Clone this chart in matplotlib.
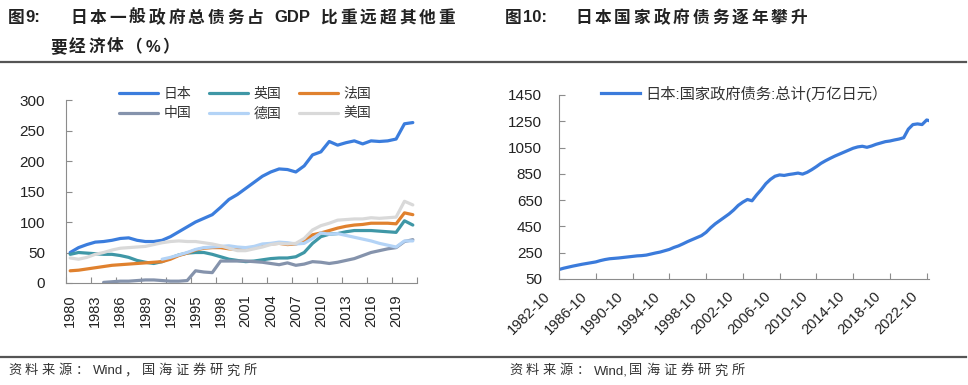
import re
import numpy as np
import pandas as pd
import matplotlib
matplotlib.use("Agg")
import matplotlib.pyplot as plt
import matplotlib.transforms as mtransforms
from matplotlib.lines import Line2D

plt.rcParams['font.family'] = ['Liberation Sans', 'Noto Sans CJK SC']

# ---- left chart: general government gross debt, % of GDP ----
years = list(range(1980, 2022))
nan = np.nan
japan = [50, 58, 63, 67, 68, 70, 73, 74, 70, 68, 68, 70, 76, 84, 92, 100, 106, 112,
         124, 137, 145, 155, 165, 175, 182, 187, 186, 182, 192, 210, 215, 232, 226,
         230, 233, 228, 233, 232, 233, 236, 261, 263]
uk = [47, 50, 49, 48, 47, 47, 45, 42, 37, 34, 32, 35, 41, 46, 49, 50, 50, 47, 43, 39,
      37, 35, 36, 38, 40, 41, 41, 43, 50, 65, 76, 80, 81, 84, 86, 86, 86, 85, 84, 83,
      102, 95]
france = [20, 21, 23, 25, 27, 29, 30, 31, 32, 33, 34, 35, 39, 45, 49, 54, 57, 58, 58,
          56, 55, 56, 58, 62, 64, 65, 63, 64, 68, 79, 82, 86, 90, 93, 95, 96, 98, 98,
          98, 97, 115, 112]
china = [nan, nan, nan, nan, 1, 2, 3, 3, 4, 5, 5, 4, 3, 3, 4, 20, 18, 17, 36, 36, 36,
         36, 35, 34, 32, 30, 33, 29, 31, 35, 34, 32, 34, 37, 40, 45, 50, 53, 56, 58,
         68, 71]
germany = [nan] * 11 + [39, 42, 46, 50, 55, 58, 59, 60, 61, 59, 58, 60, 64, 65, 67,
                        66, 64, 65, 73, 82, 80, 81, 78, 75, 72, 69, 65, 62, 59, 69, 69]
usa = [41, 39, 42, 47, 50, 54, 57, 58, 59, 60, 63, 66, 68, 69, 68, 68, 66, 64, 61, 57,
       53, 53, 56, 59, 63, 65, 64, 65, 73, 87, 94, 98, 103, 104, 105, 105, 107, 106,
       107, 108, 134, 128]
series_names = ['日本', '英国', '法国', '中国', '德国', '美国']
series_colors = ['#3B7DDD', '#3F97A6', '#E0812E', '#8593AC', '#B3D3F6', '#D9D9D9']

# ---- right chart: Japan national government debt, trillion yen ----
debt_dates = pd.date_range("1982-10-01", "2022-10-01", freq="6MS").append(
    pd.DatetimeIndex(["2023-01-01"]))
debt_values = [122, 132, 140, 148, 155, 162, 168, 174, 180, 190, 198, 204, 207, 210,
               214, 218, 222, 226, 228, 232, 240, 248, 255, 265, 275, 290, 302, 318,
               335, 350, 365, 380, 405, 440, 470, 495, 520, 545, 575, 610, 635, 655,
               645, 690, 730, 775, 808, 832, 842, 838, 845, 850, 856, 848, 862, 882,
               905, 930, 950, 968, 985, 1000, 1015, 1030, 1045, 1055, 1060, 1052,
               1062, 1075, 1085, 1095, 1100, 1108, 1115, 1125, 1190, 1225, 1230,
               1225, 1260, 1255]

W, H = 968, 385
fig = plt.figure(figsize=(W / 100, H / 100), dpi=100)
renderer = fig.canvas.get_renderer()

def fx(px):
    return px / W

def fy(py):
    return 1 - py / H

def tracked(x, y, s, extra, **kw):
    # CJK chars on a fixed advance plus extra spacing (px); latin runs drawn as one piece
    size = kw.get('fontsize', 10)
    em = size * 100 / 72
    for tok in re.findall(r'[A-Za-z0-9:,%]+| |.', s):
        if tok == ' ':
            x += em * 0.3 + extra
            continue
        t = fig.text(fx(x), fy(y), tok, va='center', **kw)
        if tok.isascii():
            x += t.get_window_extent(renderer).width + em * 0.1
        else:
            x += em + extra
    return x

spine_col = '#8C8C8C'
text_col = '#222222'

# titles
tracked(8, 18, '图9:', 1, fontsize=12, fontweight='bold', color=text_col)
tracked(70, 18, '日本一般政府总债务占 GDP 比重远超其他重', 3.0, fontsize=12,
        fontweight='bold', color=text_col)
tracked(50, 47, '要经济体（%）', 2.4, fontsize=12, fontweight='bold', color=text_col)
tracked(505, 18, '图10:', 1, fontsize=12, fontweight='bold', color=text_col)
tracked(575, 18, '日本国家政府债务逐年攀升', 2.9, fontsize=12, fontweight='bold',
        color=text_col)

# separator lines
fig.add_artist(Line2D([0, fx(966)], [fy(62), fy(62)], color='#555555', lw=1.6))
fig.add_artist(Line2D([0, fx(966)], [fy(357), fy(357)], color='#555555', lw=1.6))

# sources
tracked(8, 371, '资料来源：Wind，国海证券研究所', 3.8, fontsize=9.5, color='#333333')
tracked(509, 371, '资料来源：Wind,国海证券研究所', 3.8, fontsize=9.5, color='#333333')

# ---- left axes ----
ax1 = fig.add_axes([fx(66), fy(283), fx(417 - 66), (283 - 100) / H])
xs = np.array(years) + 0.5
handles = {}
for name, vals, col in zip(series_names, [japan, uk, france, china, germany, usa],
                           series_colors):
    handles[name], = ax1.plot(xs, vals, color=col, lw=2.3, label=name,
                              solid_capstyle='round')
ax1.set_xlim(1980, 2022)
ax1.set_ylim(0, 300)
ax1.set_yticks(range(0, 301, 50))
ax1.set_xticks(np.arange(1980, 2023, 3))
ax1.set_xticklabels([])
ax1.set_xticks(np.arange(1980.5, 2020, 3), minor=True)
ax1.set_xticklabels([str(y) for y in range(1980, 2020, 3)], minor=True, rotation=90)
ax1.tick_params(axis='x', which='minor', length=0, pad=8, labelsize=10.5, colors=text_col)
ax1.tick_params(axis='x', which='major', direction='in', length=4, color=spine_col)
ax1.tick_params(axis='y', direction='in', length=4, color=spine_col, pad=15,
                labelsize=11, labelcolor=text_col)
for s in ['top', 'right']:
    ax1.spines[s].set_visible(False)
for s in ['left', 'bottom']:
    ax1.spines[s].set_color(spine_col)
# legend fills column-wise, so order it to read row by row
leg_order = ['日本', '中国', '英国', '德国', '法国', '美国']
leg1 = ax1.legend([handles[n] for n in leg_order], leg_order, ncol=3, loc='upper left',
                  bbox_to_anchor=(fx(112), fy(80)), bbox_transform=fig.transFigure,
                  frameon=False, fontsize=10, handlelength=2.8, handletextpad=0.4,
                  columnspacing=1.3, borderpad=0, labelspacing=0.4)
for t in leg1.get_texts():
    t.set_color('#333333')

# ---- right axes ----
ax2 = fig.add_axes([fx(559), fy(279), fx(929 - 559), (279 - 95) / H])
ax2.plot(debt_dates, debt_values, color='#3B7BDB', lw=2.3,
         label='日本:国家政府债务:总计(万亿日元）')
ax2.set_xlim(pd.Timestamp("1982-10-01"), pd.Timestamp("2023-01-01"))
ax2.set_ylim(50, 1450)
ax2.set_yticks(range(50, 1451, 200))
tick_dates = pd.to_datetime([f"{y}-10-01" for y in range(1982, 2023, 4)])
ax2.set_xticks(tick_dates)
ax2.set_xticklabels([f"{y}-10" for y in range(1982, 2023, 4)], rotation=45, ha='right')
ax2.tick_params(axis='x', direction='in', length=4, color=spine_col, pad=7,
                labelsize=10.5, labelcolor=text_col)
ax2.tick_params(axis='y', direction='in', length=4, color=spine_col, pad=12,
                labelsize=11, labelcolor=text_col)
for s in ['top', 'right']:
    ax2.spines[s].set_visible(False)
for s in ['left', 'bottom']:
    ax2.spines[s].set_color(spine_col)
offset = mtransforms.ScaledTranslation(-6 / 100, 0, fig.dpi_scale_trans)
for lab in ax2.get_xticklabels():
    lab.set_transform(lab.get_transform() + offset)
leg2 = ax2.legend(loc='upper left', bbox_to_anchor=(fx(593), fy(78)),
                  bbox_transform=fig.transFigure, frameon=False, fontsize=11,
                  handlelength=2.6, handletextpad=0.35, borderpad=0)
for t in leg2.get_texts():
    t.set_color('#333333')

fig.savefig("out.png", dpi=100)
